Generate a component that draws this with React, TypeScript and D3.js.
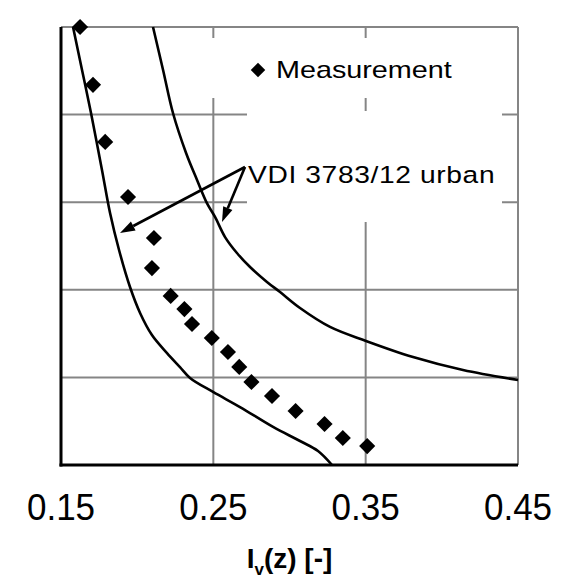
import React from "react";
import * as d3 from "d3";

const xTicks = [0.15, 0.25, 0.35, 0.45];
const yGrid = [0, 50, 100, 150, 200, 250];

// Measurement: turbulence intensity Iv vs height z
const measIv = [0.1625, 0.171, 0.179, 0.194, 0.211, 0.2097, 0.222, 0.231, 0.236, 0.249, 0.2596, 0.267, 0.275, 0.2885, 0.304, 0.323, 0.335, 0.351];
const measZ = [250, 217, 184.4, 153, 129.6, 112.4, 96.5, 89, 80.5, 72.5, 64.5, 56, 47.4, 39.4, 30.8, 23.4, 15.4, 10.8];

// VDI 3783/12 urban – lower bound curve
const lowIv = [0.1579, 0.1638, 0.1697, 0.1769, 0.1822, 0.1881, 0.1953, 0.2019, 0.2097, 0.2196, 0.2281, 0.2347, 0.2498, 0.2675, 0.2892, 0.3069, 0.3187, 0.3279];
const lowZ = [250, 225.5, 200.9, 168.4, 143.8, 122.7, 101.6, 86.8, 74.2, 63.9, 55.9, 49.7, 41.7, 33.1, 21.7, 13.7, 8, 0];

// VDI 3783/12 urban – upper bound curve
const upIv = [0.2104, 0.217, 0.2235, 0.2321, 0.2393, 0.2458, 0.2511, 0.2577, 0.2655, 0.2741, 0.2852, 0.2938, 0.3069, 0.3266, 0.3502, 0.3811, 0.4139, 0.45];
const upZ = [250, 225.5, 200.9, 178.1, 162.7, 149.5, 141.6, 130.1, 121, 113, 104.5, 98.7, 89.6, 78.8, 70.8, 61.6, 54.2, 48.5];

const W = 571;
const H = 578;
const L = 61, R = 518, T = 27, B = 465;

export default function App() {
  const x = d3.scaleLinear().domain([0.15, 0.45]).range([L, R]);
  const y = d3.scaleLinear().domain([0, 250]).range([B, T]);

  const line = d3
    .line<[number, number]>()
    .x((d) => x(d[0]))
    .y((d) => y(d[1]))
    .curve(d3.curveCatmullRom.alpha(0.5));

  const lowPts: [number, number][] = lowIv.map((v, i) => [v, lowZ[i]]);
  const upPts: [number, number][] = upIv.map((v, i) => [v, upZ[i]]);

  const diamond = d3.symbol().type(d3.symbolSquare).size(130)() as string;
  const diamondSmall = d3.symbol().type(d3.symbolSquare).size(105)() as string;

  const grid = "#858585";
  const font = "'Liberation Sans', Arial, sans-serif";

  const arrowOrigin = [245, 167];
  const arrowTargets = [
    [120, 233],
    [222, 222],
  ];

  return (
    <svg
      width={W}
      height={H}
      style={{ position: "absolute", left: 0, top: 0, background: "#fff" }}
    >
      <rect x={0} y={0} width={W} height={H} fill="#fff" />
      {/* gridlines */}
      {yGrid.map((g) => (
        <line key={"h" + g} x1={L} x2={R} y1={y(g)} y2={y(g)} stroke={grid} strokeWidth={2} />
      ))}
      {xTicks.map((t) => (
        <line key={"v" + t} x1={x(t)} x2={x(t)} y1={T} y2={B} stroke={grid} strokeWidth={2} />
      ))}
      {/* white boxes behind labels */}
      <rect x={200} y={38} width={310} height={60} fill="#fff" />
      <rect x={247} y={111} width={255} height={111} fill="#fff" />

      {/* axes */}
      <line x1={L} x2={L} y1={T} y2={B + 1.5} stroke="#000" strokeWidth={3} />
      <line x1={L - 1.5} x2={R} y1={B} y2={B} stroke="#000" strokeWidth={3} />

      {/* curves */}
      <path d={line(lowPts) as string} fill="none" stroke="#000" strokeWidth={2.6} />
      <path d={line(upPts) as string} fill="none" stroke="#000" strokeWidth={2.6} />

      {/* measurement points */}
      {measIv.map((v, i) => (
        <path
          key={"m" + i}
          d={diamond}
          transform={`translate(${x(v)},${y(measZ[i])}) rotate(45)`}
          fill="#000"
        />
      ))}

      {/* legend */}
      <path d={diamondSmall} transform="translate(258,70) rotate(45)" fill="#000" />
      <text
        transform="translate(276,78) scale(1.2,1)"
        fontFamily={font}
        fontSize={24}
        textLength={146.5}
        lengthAdjust="spacing"
        fill="#000"
      >
        Measurement
      </text>

      {/* VDI label and arrows */}
      <text
        transform="translate(248,183) scale(1.2,1)"
        fontFamily={font}
        fontSize={23.5}
        textLength={205.5}
        lengthAdjust="spacing"
        fill="#000"
      >
        VDI 3783/12 urban
      </text>
      {arrowTargets.map(([tx, ty], i) => {
        const [ox, oy] = arrowOrigin;
        const ang = Math.atan2(ty - oy, tx - ox);
        const len = 15;
        const wid = 5;
        const bx = tx - len * Math.cos(ang);
        const by = ty - len * Math.sin(ang);
        const px = -Math.sin(ang) * wid;
        const py = Math.cos(ang) * wid;
        return (
          <g key={"a" + i}>
            <line x1={ox} y1={oy} x2={bx} y2={by} stroke="#000" strokeWidth={2.6} />
            <path
              d={`M${tx},${ty}L${bx + px},${by + py}L${bx - px},${by - py}Z`}
              fill="#000"
            />
          </g>
        );
      })}

      {/* x tick labels */}
      {xTicks.map((t) => (
        <text
          key={"t" + t}
          transform={`translate(${x(t)},520) scale(1,1.06)`}
          textAnchor="middle"
          fontFamily={font}
          fontSize={35}
          fill="#000"
        >
          {d3.format(".2f")(t)}
        </text>
      ))}

      {/* x axis title */}
      <text
        x={(L + R) / 2}
        y={568}
        textAnchor="middle"
        fontFamily={font}
        fontSize={28}
        fontWeight="bold"
        fill="#000"
      >
        I
        <tspan fontSize={17} dy={7}>v</tspan>
        <tspan dy={-7}>(z) [-]</tspan>
      </text>
    </svg>
  );
}
